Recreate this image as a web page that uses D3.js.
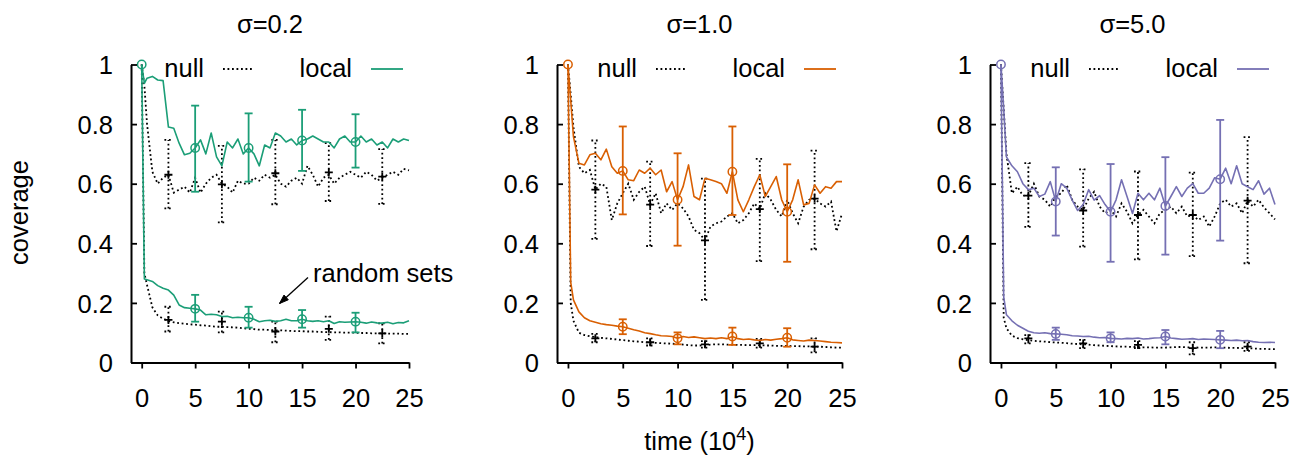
<!DOCTYPE html>
<html><head><meta charset="utf-8">
<script src="https://cdn.jsdelivr.net/npm/d3@7"></script>
<style>
body{margin:0;background:#fff}
svg{display:block}
text{font-family:"Liberation Sans",Arial,Helvetica,sans-serif;fill:#000}
</style>
</head><body>
<svg id="chart" width="1302" height="457"></svg>
<script>
// ---------------- data ----------------
const panelTitles = ["σ=0.2", "σ=1.0", "σ=5.0"];
const xTicks = [0, 5, 10, 15, 20, 25];
const yTicks = [0, 0.2, 0.4, 0.6, 0.8, 1];
const yTickLabels = ["0", "0.2", "0.4", "0.6", "0.8", "1"];
const localErrTimes = [5, 10, 15, 20];
const nullErrTimes = [2.5, 7.5, 12.5, 17.5, 22.5];

const times = [0, 0.25, 0.5,
  1, 1.5, 2, 2.5, 3, 3.5, 4, 4.5, 5,
  5.5, 6, 6.5, 7, 7.5, 8, 8.5, 9, 9.5, 10,
  10.5, 11, 11.5, 12, 12.5, 13, 13.5, 14, 14.5, 15,
  15.5, 16, 16.5, 17, 17.5, 18, 18.5, 19, 19.5, 20,
  20.5, 21, 21.5, 22, 22.5, 23, 23.5, 24, 24.5, 25];

// sigma = 0.2
const localHigh1 = [1.0, 0.937, 0.954,
  0.96, 0.948, 0.946, 0.79, 0.786, 0.736, 0.697, 0.702, 0.72,
  0.747, 0.70, 0.77, 0.69, 0.66, 0.74, 0.72, 0.75, 0.70, 0.72,
  0.70, 0.66, 0.73, 0.72, 0.77, 0.76, 0.74, 0.75, 0.73, 0.745,
  0.75, 0.76, 0.75, 0.74, 0.74, 0.72, 0.75, 0.76, 0.74, 0.74,
  0.76, 0.74, 0.75, 0.73, 0.74, 0.72, 0.75, 0.74, 0.75, 0.745];
const nullHigh1 = [1.0, 0.93, 0.80,
  0.64, 0.60, 0.62, 0.63, 0.57, 0.58, 0.59, 0.57, 0.62,
  0.57, 0.60, 0.62, 0.63, 0.60, 0.59, 0.57, 0.61, 0.60, 0.60,
  0.62, 0.61, 0.63, 0.62, 0.63, 0.60, 0.59, 0.61, 0.62, 0.60,
  0.66, 0.63, 0.59, 0.62, 0.63, 0.60, 0.62, 0.63, 0.64, 0.63,
  0.62, 0.64, 0.63, 0.61, 0.62, 0.63, 0.64, 0.63, 0.65, 0.645];
const localLow1 = [1.0, 0.28, 0.278,
  0.272, 0.258, 0.249, 0.243, 0.226, 0.193, 0.184, 0.182, 0.18,
  0.176, 0.16, 0.162, 0.16, 0.154, 0.155, 0.15, 0.152, 0.15, 0.15,
  0.145, 0.137, 0.14, 0.142, 0.138, 0.14, 0.145, 0.14, 0.14, 0.145,
  0.14, 0.138, 0.14, 0.137, 0.14, 0.131, 0.137, 0.135, 0.136, 0.137,
  0.135, 0.132, 0.136, 0.133, 0.132, 0.135, 0.13, 0.134, 0.133, 0.14];
const nullLow1 = [1.0, 0.30, 0.26,
  0.185, 0.158, 0.147, 0.14, 0.135, 0.132, 0.13, 0.128, 0.127,
  0.125, 0.124, 0.122, 0.12, 0.12, 0.119, 0.118, 0.117, 0.115, 0.113,
  0.112, 0.11, 0.11, 0.109, 0.108, 0.108, 0.107, 0.106, 0.105, 0.105,
  0.104, 0.104, 0.103, 0.102, 0.102, 0.101, 0.101, 0.1, 0.1, 0.1,
  0.099, 0.099, 0.098, 0.098, 0.098, 0.097, 0.097, 0.097, 0.096, 0.096];
// error bars: [mean, low, high]
const localHighErr1 = [[0.72, 0.573, 0.862], [0.72, 0.607, 0.836], [0.745, 0.643, 0.848], [0.74, 0.654, 0.833]];
const localLowErr1 = [[0.18, 0.137, 0.227], [0.15, 0.117, 0.187], [0.145, 0.117, 0.176], [0.137, 0.101, 0.167]];
const nullHighErr1 = [[0.63, 0.517, 0.747], [0.598, 0.47, 0.727], [0.635, 0.531, 0.747], [0.638, 0.542, 0.736], [0.624, 0.532, 0.716]];
const nullLowErr1 = [[0.143, 0.104, 0.187], [0.137, 0.101, 0.171], [0.104, 0.068, 0.137], [0.113, 0.076, 0.154], [0.098, 0.064, 0.131]];

// sigma = 1.0
const localHigh2 = [1.0, 0.88, 0.758,
  0.669, 0.663, 0.697, 0.702, 0.68, 0.716, 0.657, 0.635, 0.643,
  0.613, 0.61, 0.646, 0.635, 0.652, 0.63, 0.646, 0.573, 0.607, 0.546,
  0.59, 0.663, 0.557, 0.546, 0.618, 0.613, 0.607, 0.60, 0.568, 0.64,
  0.546, 0.506, 0.546, 0.59, 0.63, 0.557, 0.59, 0.624, 0.546, 0.506,
  0.546, 0.613, 0.529, 0.534, 0.596, 0.568, 0.59, 0.585, 0.607, 0.607];
const nullHigh2 = [1.0, 0.90, 0.79,
  0.657, 0.635, 0.646, 0.58, 0.60, 0.59, 0.478, 0.534, 0.568,
  0.60, 0.546, 0.573, 0.59, 0.53, 0.568, 0.501, 0.534, 0.512, 0.534,
  0.517, 0.49, 0.445, 0.434, 0.41, 0.456, 0.467, 0.473, 0.49, 0.501,
  0.467, 0.478, 0.501, 0.534, 0.515, 0.568, 0.546, 0.512, 0.49, 0.546,
  0.501, 0.467, 0.523, 0.546, 0.55, 0.534, 0.523, 0.54, 0.44, 0.50];
const localLow2 = [1.0, 0.27, 0.21,
  0.17, 0.15, 0.14, 0.135, 0.13, 0.127, 0.125, 0.122, 0.12,
  0.115, 0.11, 0.106, 0.1, 0.097, 0.093, 0.09, 0.089, 0.087, 0.081,
  0.087, 0.084, 0.086, 0.083, 0.08, 0.082, 0.08, 0.083, 0.08, 0.087,
  0.08, 0.077, 0.079, 0.076, 0.074, 0.077, 0.075, 0.078, 0.08, 0.083,
  0.076, 0.074, 0.072, 0.075, 0.074, 0.072, 0.07, 0.068, 0.067, 0.066];
const nullLow2 = [1.0, 0.2, 0.14,
  0.1, 0.092, 0.088, 0.085, 0.083, 0.081, 0.079, 0.077, 0.075,
  0.073, 0.071, 0.07, 0.068, 0.067, 0.066, 0.065, 0.064, 0.063, 0.062,
  0.06, 0.058, 0.057, 0.057, 0.058, 0.06, 0.061, 0.061, 0.06, 0.06,
  0.059, 0.059, 0.058, 0.058, 0.058, 0.057, 0.057, 0.056, 0.056, 0.056,
  0.055, 0.055, 0.054, 0.054, 0.053, 0.053, 0.052, 0.051, 0.05, 0.05];
const localHighErr2 = [[0.643, 0.497, 0.792], [0.546, 0.392, 0.702], [0.64, 0.495, 0.792], [0.506, 0.338, 0.665]];
const localLowErr2 = [[0.12, 0.095, 0.145], [0.081, 0.061, 0.101], [0.087, 0.059, 0.117], [0.083, 0.053, 0.115]];
const nullHighErr2 = [[0.58, 0.415, 0.745], [0.53, 0.391, 0.674], [0.41, 0.21, 0.617], [0.515, 0.34, 0.683], [0.55, 0.38, 0.711]];
const nullLowErr2 = [[0.081, 0.068, 0.096], [0.068, 0.057, 0.081], [0.061, 0.05, 0.072], [0.064, 0.05, 0.079], [0.053, 0.034, 0.081]];

// sigma = 5.0
const localHigh3 = [1.0, 0.85, 0.69,
  0.66, 0.64, 0.60, 0.58, 0.585, 0.557, 0.565, 0.607, 0.54,
  0.60, 0.585, 0.545, 0.51, 0.53, 0.58, 0.545, 0.56, 0.53, 0.506,
  0.546, 0.613, 0.557, 0.50, 0.568, 0.546, 0.568, 0.546, 0.585, 0.525,
  0.557, 0.59, 0.557, 0.585, 0.60, 0.568, 0.568, 0.585, 0.62, 0.615,
  0.652, 0.60, 0.66, 0.60, 0.59, 0.58, 0.61, 0.565, 0.585, 0.53];
const nullHigh3 = [1.0, 0.85, 0.70,
  0.568, 0.59, 0.56, 0.56, 0.60, 0.557, 0.546, 0.523, 0.557,
  0.568, 0.596, 0.546, 0.523, 0.512, 0.55, 0.573, 0.523, 0.501, 0.512,
  0.49, 0.534, 0.506, 0.467, 0.495, 0.512, 0.49, 0.467, 0.501, 0.512,
  0.523, 0.501, 0.523, 0.49, 0.495, 0.478, 0.49, 0.456, 0.49, 0.534,
  0.546, 0.523, 0.534, 0.501, 0.543, 0.523, 0.546, 0.52, 0.501, 0.48];
const localLow3 = [1.0, 0.22, 0.16,
  0.14, 0.125, 0.115, 0.105, 0.1, 0.098, 0.1, 0.097, 0.096,
  0.095, 0.093, 0.09, 0.089, 0.087, 0.088, 0.085, 0.083, 0.084, 0.081,
  0.08, 0.079, 0.081, 0.08, 0.082, 0.079, 0.08, 0.082, 0.083, 0.087,
  0.082, 0.08, 0.078, 0.079, 0.08, 0.077, 0.079, 0.078, 0.077, 0.076,
  0.075, 0.074, 0.075, 0.073, 0.074, 0.07, 0.068, 0.067, 0.068, 0.067];
const nullLow3 = [1.0, 0.15, 0.115,
  0.09, 0.082, 0.078, 0.075, 0.073, 0.071, 0.07, 0.068, 0.067,
  0.066, 0.065, 0.063, 0.062, 0.061, 0.06, 0.058, 0.057, 0.056, 0.055,
  0.054, 0.053, 0.053, 0.052, 0.052, 0.051, 0.051, 0.05, 0.05, 0.05,
  0.051, 0.052, 0.052, 0.051, 0.051, 0.05, 0.05, 0.05, 0.051, 0.05,
  0.05, 0.049, 0.049, 0.048, 0.048, 0.047, 0.046, 0.046, 0.045, 0.045];
const localHighErr3 = [[0.54, 0.426, 0.655], [0.506, 0.338, 0.666], [0.525, 0.362, 0.689], [0.615, 0.409, 0.814]];
const localLowErr3 = [[0.096, 0.076, 0.117], [0.081, 0.068, 0.101], [0.087, 0.061, 0.109], [0.076, 0.048, 0.106]];
const nullHighErr3 = [[0.56, 0.455, 0.669], [0.51, 0.389, 0.648], [0.495, 0.346, 0.641], [0.495, 0.357, 0.637], [0.543, 0.333, 0.756]];
const nullLowErr3 = [[0.081, 0.064, 0.092], [0.064, 0.048, 0.076], [0.059, 0.048, 0.072], [0.048, 0.027, 0.068], [0.053, 0.039, 0.068]];

const legendLabels = ["null", "local"];
const annotationText = "random sets";
const yAxisLabel = "coverage";

// ---------------- styling / layout ----------------
const panelColors = ["#1b9e77", "#d95f02", "#7570b3"];
const panelLayout = [{left: 131, right: 409}, {left: 557, right: 842}, {left: 990, right: 1275}];
const plotTop = 64.5, plotBottom = 362.5;
const FS = 25.5;
const DOT = "1.8,2.7";
const DOTW = 1.8;

const panels = [
  {title: panelTitles[0], lh: localHigh1, nh: nullHigh1, ll: localLow1, nl: nullLow1,
   lhe: localHighErr1, lle: localLowErr1, nhe: nullHighErr1, nle: nullLowErr1},
  {title: panelTitles[1], lh: localHigh2, nh: nullHigh2, ll: localLow2, nl: nullLow2,
   lhe: localHighErr2, lle: localLowErr2, nhe: nullHighErr2, nle: nullLowErr2},
  {title: panelTitles[2], lh: localHigh3, nh: nullHigh3, ll: localLow3, nl: nullLow3,
   lhe: localHighErr3, lle: localLowErr3, nhe: nullHighErr3, nle: nullLowErr3}
];

const svg = d3.select("#chart");

panels.forEach((p, pi) => {
  const L = panelLayout[pi];
  const col = panelColors[pi];
  const x = d3.scaleLinear().domain([-1, 25]).range([L.left, L.right]);
  const y = d3.scaleLinear().domain([0, 1]).range([plotBottom, plotTop]);
  const g = svg.append("g");

  const line = d3.line().x((d, i) => x(times[i])).y(d => y(d));

  // null series (dotted)
  [p.nh, p.nl].forEach(s => {
    g.append("path").attr("d", line(s)).attr("fill", "none")
      .attr("stroke", "#000").attr("stroke-width", DOTW).attr("stroke-dasharray", DOT);
  });
  // null error bars
  [p.nhe, p.nle].forEach(errs => {
    errs.forEach((e, i) => {
      const cx = x(nullErrTimes[i]);
      const eg = g.append("g").attr("stroke", "#000").attr("stroke-width", DOTW)
        .attr("stroke-dasharray", DOT).attr("fill", "none");
      eg.append("line").attr("x1", cx).attr("x2", cx).attr("y1", y(e[1])).attr("y2", y(e[2]));
      eg.append("line").attr("x1", cx - 4).attr("x2", cx + 4).attr("y1", y(e[1])).attr("y2", y(e[1]));
      eg.append("line").attr("x1", cx - 4).attr("x2", cx + 4).attr("y1", y(e[2])).attr("y2", y(e[2]));
      g.append("path").attr("transform", `translate(${cx},${y(e[0])})`)
        .attr("d", "M-4,0H4M0,-4V4").attr("stroke", "#000").attr("stroke-width", 1.8);
    });
  });

  // local series (solid)
  [p.lh, p.ll].forEach(s => {
    g.append("path").attr("d", line(s)).attr("fill", "none")
      .attr("stroke", col).attr("stroke-width", 1.6).attr("stroke-linejoin", "round");
  });
  // local error bars
  [p.lhe, p.lle].forEach(errs => {
    errs.forEach((e, i) => {
      const cx = x(localErrTimes[i]);
      const eg = g.append("g").attr("stroke", col).attr("stroke-width", 1.8).attr("fill", "none");
      eg.append("line").attr("x1", cx).attr("x2", cx).attr("y1", y(e[1])).attr("y2", y(e[2]));
      eg.append("line").attr("x1", cx - 4).attr("x2", cx + 4).attr("y1", y(e[1])).attr("y2", y(e[1]));
      eg.append("line").attr("x1", cx - 4).attr("x2", cx + 4).attr("y1", y(e[2])).attr("y2", y(e[2]));
      eg.append("circle").attr("cx", cx).attr("cy", y(e[0])).attr("r", 4.2).attr("stroke-width", 1.5);
    });
  });
  // start point marker
  g.append("circle").attr("cx", x(times[0])).attr("cy", y(p.lh[0])).attr("r", 4.2)
    .attr("fill", "none").attr("stroke", col).attr("stroke-width", 1.5);

  // axes
  const yAxis = d3.axisLeft(y).tickValues(yTicks).tickSizeInner(-6).tickSizeOuter(0)
    .tickPadding(18).tickFormat((d, i) => yTickLabels[i]);
  const ya = g.append("g").attr("transform", `translate(${L.left},0)`).call(yAxis);
  const xAxis = d3.axisBottom(x).tickValues(xTicks).tickSizeInner(6).tickSizeOuter(0)
    .tickPadding(20);
  const xa = g.append("g").attr("transform", `translate(0,${plotBottom})`).call(xAxis);
  [ya, xa].forEach(a => {
    a.attr("font-size", FS).attr("font-family", null);
    a.select(".domain").attr("stroke", "#000").attr("stroke-width", 2);
    a.selectAll(".tick line").attr("stroke", "#000").attr("stroke-width", 1.8);
    a.selectAll(".tick text").attr("fill", "#000");
  });
  ya.selectAll(".tick text").attr("dy", "0.36em");

  // title
  g.append("text").attr("x", (L.left + L.right) / 2).attr("y", 33)
    .attr("text-anchor", "middle").attr("font-size", FS).text(p.title);

  // legend
  const R = L.right;
  g.append("text").attr("x", R - 205).attr("y", 77).attr("text-anchor", "end")
    .attr("font-size", FS).text(legendLabels[0]);
  g.append("line").attr("x1", R - 186).attr("x2", R - 157).attr("y1", 69).attr("y2", 69)
    .attr("stroke", "#000").attr("stroke-width", DOTW).attr("stroke-dasharray", DOT);
  g.append("text").attr("x", R - 57).attr("y", 77).attr("text-anchor", "end")
    .attr("font-size", FS).text(legendLabels[1]);
  g.append("line").attr("x1", R - 38).attr("x2", R - 6).attr("y1", 69).attr("y2", 69)
    .attr("stroke", col).attr("stroke-width", 1.8);

  if (pi === 0) {
    g.append("text").attr("x", 313).attr("y", 282).attr("font-size", FS).text(annotationText);
    const x1 = 308, y1 = 277.5, x2 = 279.5, y2 = 303.5;
    g.append("line").attr("x1", x1).attr("y1", y1).attr("x2", x2).attr("y2", y2)
      .attr("stroke", "#000").attr("stroke-width", 1.3);
    const ang = Math.atan2(y2 - y1, x2 - x1), len = 9, hw = 3.2;
    const bx = x2 - len * Math.cos(ang), by = y2 - len * Math.sin(ang);
    const px = -Math.sin(ang) * hw, py = Math.cos(ang) * hw;
    g.append("path").attr("d", `M${x2},${y2}L${bx + px},${by + py}L${bx - px},${by - py}Z`)
      .attr("fill", "#000").attr("stroke", "#000").attr("stroke-width", 1);
  }
  if (pi === 1) {
    const t = g.append("text").attr("x", (L.left + L.right) / 2).attr("y", 450)
      .attr("text-anchor", "middle").attr("font-size", FS);
    t.append("tspan").text("time (10");
    t.append("tspan").attr("dy", -10).attr("font-size", 18).text("4");
    t.append("tspan").attr("dy", 10).text(")");
  }
});

svg.append("text").attr("transform", "translate(28,212.5) rotate(-90)")
  .attr("text-anchor", "middle").attr("font-size", FS).text(yAxisLabel);
</script>
</body></html>
